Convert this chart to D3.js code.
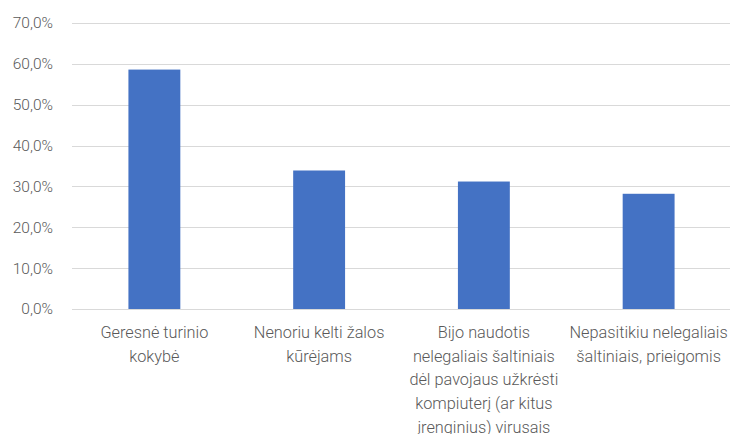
<!DOCTYPE html>
<html>
<head>
<meta charset="utf-8">
<script src="https://cdn.jsdelivr.net/npm/d3@7"></script>
<style>
  html, body { margin: 0; padding: 0; background: #fff; }
  svg { display: block; }
</style>
</head>
<body>
<div id="chart"></div>
<script>
(function () {
  // ---- data ----
  const categories = [
    "Geresnė turinio|kokybė",
    "Nenoriu kelti žalos|kūrėjams",
    "Bijo naudotis|nelegaliais šaltiniais|dėl pavojaus užkrėsti|kompiuterį (ar kitus|įrenginius) virusais",
    "Nepasitikiu nelegaliais|šaltiniais, prieigomis"
  ];
  const values = [58.6, 33.9, 31.2, 28.2];
  const yTicks = [0, 10, 20, 30, 40, 50, 60, 70];

  // ---- layout ----
  const width = 730, height = 434;
  const margin = { top: 23, right: -1, bottom: 125, left: 72 };

  const svg = d3.select("#chart").append("svg")
    .attr("width", width)
    .attr("height", height);

  const x = d3.scaleBand()
    .domain(categories)
    .range([margin.left, width - margin.right])
    .paddingInner(0.685)
    .paddingOuter(0.3425);

  const y = d3.scaleLinear()
    .domain([0, 70])
    .range([height - margin.bottom, margin.top]);

  const fmt = v => d3.format(".1f")(v).replace(".", ",") + "%";

  // ---- grid ----
  svg.append("g")
    .selectAll("line")
    .data(yTicks)
    .join("line")
    .attr("x1", margin.left)
    .attr("x2", width)
    .attr("y1", d => Math.round(y(d)) + 0.5)
    .attr("y2", d => Math.round(y(d)) + 0.5)
    .attr("stroke", "#d9d9d9")
    .attr("stroke-width", 1);

  // ---- y axis labels ----
  const yAxis = svg.append("g")
    .attr("transform", `translate(${margin.left},0)`)
    .call(d3.axisLeft(y).tickValues(yTicks).tickFormat(fmt).tickSize(0).tickPadding(19));
  yAxis.select(".domain").remove();
  yAxis.selectAll("text")
    .attr("fill", "#595959")
    .style("font-family", "Roboto, sans-serif")
    .style("font-weight", 300)
    .style("font-size", "15.5px");

  // ---- bars ----
  svg.append("g")
    .selectAll("rect")
    .data(values)
    .join("rect")
    .attr("x", (d, i) => x(categories[i]))
    .attr("width", x.bandwidth())
    .attr("y", d => y(d))
    .attr("height", d => y(0) - y(d))
    .attr("fill", "#4472c4");

  // ---- x labels ----
  const xl = svg.append("g")
    .selectAll("text")
    .data(categories)
    .join("text")
    .attr("x", d => x(d) + x.bandwidth() / 2)
    .attr("y", y(0) + 29)
    .attr("text-anchor", "middle")
    .attr("fill", "#595959")
    .style("font-family", "Roboto, sans-serif")
    .style("font-weight", 300)
    .style("font-size", "16.3px");

  xl.each(function (d) {
    const t = d3.select(this);
    const cx = t.attr("x");
    d.split("|").forEach((line, i) => {
      t.append("tspan")
        .attr("x", cx)
        .attr("dy", i === 0 ? 0 : 23.7)
        .text(line);
    });
  });
})();
</script>
</body>
</html>
